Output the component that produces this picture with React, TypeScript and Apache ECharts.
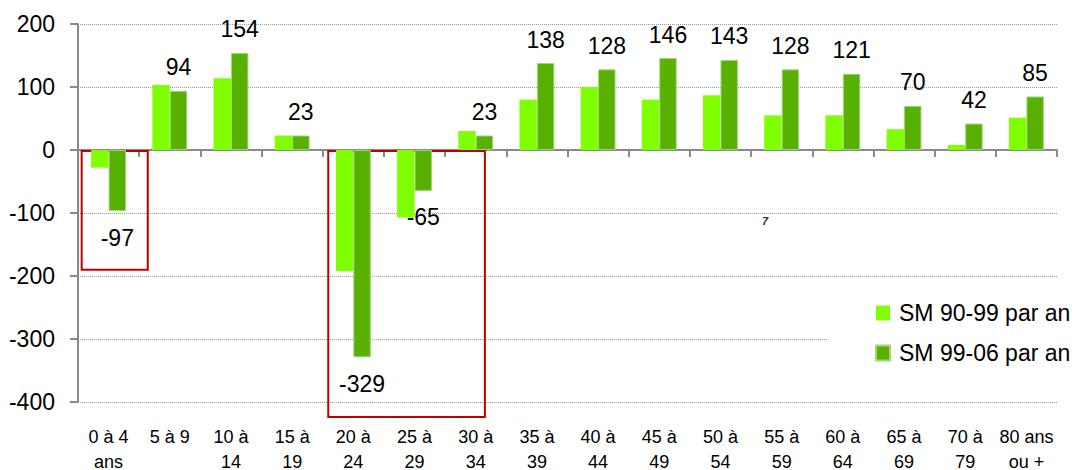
import React, { useEffect, useRef } from "react";
import * as echarts from "echarts";

const categories = [
  "0 à 4\nans", "5 à 9", "10 à\n14", "15 à\n19", "20 à\n24", "25 à\n29", "30 à\n34", "35 à\n39",
  "40 à\n44", "45 à\n49", "50 à\n54", "55 à\n59", "60 à\n64", "65 à\n69", "70 à\n79", "80 ans\nou +",
];
const sm9099 = [-28, 103, 114, 23, -192, -107, 30, 80, 100, 80, 87, 55, 55, 33, 8, 51];
const sm9906 = [-97, 94, 154, 23, -329, -65, 23, 138, 128, 146, 143, 128, 121, 70, 42, 85];
const seriesNames = ["SM 90-99 par an", "SM 99-06 par an"];
// highlighted boxes: [x0, y0, x1, y1] in category units (x) and values (y)
const boxes = [
  [0.06, -1.6, 1.14, -190],
  [4.09, -1.6, 6.65, -424],
];

const FONT = "'Liberation Sans', Arial, sans-serif";

export default function App() {
  const ref = useRef<HTMLDivElement>(null);
  useEffect(() => {
    if (!ref.current) return;
    const chart = echarts.init(ref.current, null, { renderer: "svg" });
    chart.setOption({
      animation: false,
      textStyle: { fontFamily: FONT },
      grid: { left: 78, right: 20, top: 24, bottom: 68, containLabel: false, outerBoundsMode: "none" },
      legend: {
        data: seriesNames,
        orient: "vertical",
        left: 827,
        top: 291,
        padding: [10, 4, 30, 48],
        backgroundColor: "#ffffff",
        itemWidth: 14,
        itemHeight: 15,
        itemGap: 16,
        icon: "rect",
        textStyle: { fontSize: 23, color: "#000", fontFamily: FONT, lineHeight: 24, padding: [0, 0, 0, 4] },
      },
      xAxis: [
        {
          type: "category",
          data: categories,
          position: "bottom",
          axisLine: { show: false, onZero: false },
          axisTick: { show: false },
          axisLabel: { fontSize: 18, color: "#000", lineHeight: 25, margin: 22, interval: 0, fontFamily: FONT },
        },
        {
          type: "category",
          data: categories,
          position: "top",
          axisLine: { show: true, onZero: true, onZeroAxisIndex: 0, lineStyle: { color: "#8a8a8a", width: 2 } },
          axisTick: { show: true, inside: true, length: 7, lineStyle: { color: "#8a8a8a", width: 2 } },
          axisLabel: { show: false },
          splitLine: { show: false },
        },
        {
          type: "value",
          min: 0,
          max: 16,
          show: false,
          position: "bottom",
          axisLine: { onZero: false },
          splitLine: { show: false },
        },
      ],
      yAxis: {
        type: "value",
        min: -400,
        max: 200,
        interval: 100,
        axisLine: { show: true, onZero: false, lineStyle: { color: "#8a8a8a", width: 2 } },
        axisTick: { show: true, length: 8, lineStyle: { color: "#8a8a8a", width: 2 } },
        axisLabel: { fontSize: 23, color: "#000", margin: 23, fontFamily: FONT },
        splitLine: { show: true, lineStyle: { color: "#999", type: "dotted", width: 1 } },
      },
      series: [
        {
          name: seriesNames[0],
          type: "bar",
          xAxisIndex: 0,
          data: sm9099,
          barGap: "0%",
          barCategoryGap: "43%",
          itemStyle: { color: "#80ff00" },
        },
        {
          name: seriesNames[1],
          type: "bar",
          xAxisIndex: 0,
          data: sm9906.map((v) => ({
            value: v,
            label: { position: v < 0 ? "bottom" : "top", distance: v < 0 ? 15 : 12 },
          })),
          barGap: "0%",
          barCategoryGap: "43%",
          itemStyle: { color: "#58b000", borderColor: "#9fd67f", borderWidth: 1 },
          label: { show: true, fontSize: 23, color: "#000", fontFamily: FONT },
        },
        {
          name: "boxes",
          type: "custom",
          xAxisIndex: 2,
          yAxisIndex: 0,
          data: boxes,
          clip: false,
          silent: true,
          encode: { x: [0, 2], y: [1, 3] },
          renderItem: (_params: any, api: any) => {
            const p0 = api.coord([api.value(0), api.value(1)]);
            const p1 = api.coord([api.value(2), api.value(3)]);
            return {
              type: "rect",
              shape: { x: p0[0], y: p0[1], width: p1[0] - p0[0], height: p1[1] - p0[1] },
              style: { fill: "none", stroke: "#c00000", lineWidth: 2 },
            };
          },
        },
      ],
      graphic: [
        {
          type: "text",
          left: 762,
          top: 215,
          style: { text: "7", fontSize: 11, fontWeight: "bold", fontStyle: "italic", fill: "#333", fontFamily: FONT },
        },
      ],
    });
    return () => chart.dispose();
  }, []);
  return (
    <div
      ref={ref}
      style={{ position: "absolute", left: 0, top: 0, width: 1077, height: 470, background: "#fff" }}
    />
  );
}
